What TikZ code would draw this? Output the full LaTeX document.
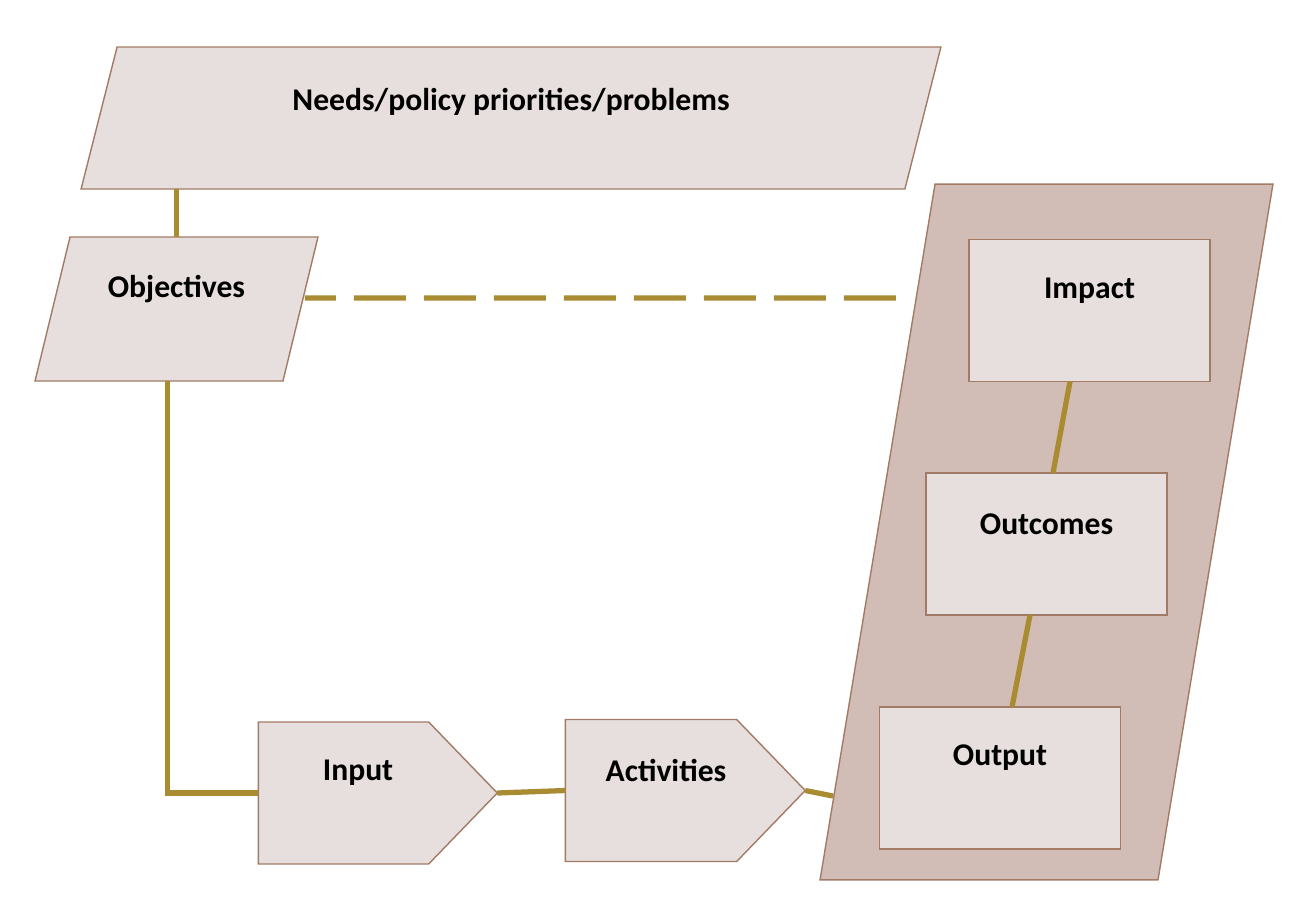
\documentclass[tikz,border=0pt]{standalone}
\usepackage{fontspec}
\setmainfont{Carlito}
\usetikzlibrary{shapes.symbols}

\definecolor{boxfill}{HTML}{E7DFDE}
\definecolor{boxedge}{HTML}{A27B66}
\definecolor{stackfill}{HTML}{D1BDB5}
\definecolor{linkgold}{HTML}{A98B32}

\tikzset{
  every node/.style={font=\fontsize{18}{21}\selectfont\bfseries, inner sep=0pt, outer sep=0pt},
  piece/.style={draw=boxedge, fill=boxfill, line width=0.8pt},
  frame/.style={rectangle},
  stepbox/.style={piece, rectangle, minimum width=4.82cm, minimum height=2.84cm},
  arrowbox/.style={piece, signal, signal to=east, signal from=nowhere, signal pointer angle=92, minimum height=2.84cm},
  tag/.style={draw=none, fill=none, yshift=0.4cm},
  link/.style={draw=linkgold, line width=3pt},
}

\begin{document}
\begin{tikzpicture}[x=0.02cm, y=-0.02cm]
        \useasboundingbox (0,0) rectangle (1292,920);

        % Slanted frames
        \node[frame, minimum width=9.06cm, minimum height=13.92cm] (stack) at (1046.5,532) {};
        \draw[piece, fill=stackfill] ([xshift=2.3cm]stack.north west) -- (stack.north east)
            -- ([xshift=-2.3cm]stack.south east) -- (stack.south west) -- cycle;
        \node[frame, minimum width=17.2cm, minimum height=2.84cm] (needs) at (511,118) {};
        \draw[piece] ([xshift=0.72cm]needs.north west) -- (needs.north east)
            -- ([xshift=-0.72cm]needs.south east) -- (needs.south west) -- cycle;
        \node[tag, yshift=-0.08cm] (needstext) at (needs.center) {Needs/policy priorities/problems};
        \node[frame, minimum width=5.66cm, minimum height=2.88cm] (objectives) at (176.5,309) {};
        \draw[piece] ([xshift=0.7cm]objectives.north west) -- (objectives.north east)
            -- ([xshift=-0.7cm]objectives.south east) -- (objectives.south west) -- cycle;
        \node[tag] (objtext) at (objectives.center) {Objectives};

        % Pieces
        \node[stepbox, label={[tag]center:Impact}] (impact) at (1089.5,310.5) {};
        \node[stepbox, label={[tag]center:Outcomes}] (outcomes) at (1046.5,544) {};
        \node[stepbox, label={[tag]center:Output}] (output) at (1000,778) {};
        \node[arrowbox, minimum width=4.78cm, label={[tag, xshift=0.29cm]center:Input}] (input) at (343.5,793) {};
        \node[arrowbox, minimum width=4.8cm, label={[tag, xshift=0.3cm]center:Activities}] (activities) at (651,790.5) {};
        \coordinate (dashend) at (900,298);
        \coordinate (stackin) at (833,796);

        % Links
        \draw[link] (objectives.north) -- (objectives.north |- needs.south);
        \draw[link] ([xshift=-0.18cm]objectives.south) |- (input.west);
        \draw[link, dash pattern=on 1.04cm off 0.36cm, dash phase=0.42cm] ([xshift=-0.26cm, yshift=0.22cm]objectives.east) -- (dashend);
        \draw[link] (input.east) -- (activities.west);
        \draw[link] (activities.east) -- (stackin);
        \draw[link] ([xshift=-0.39cm]impact.south) -- ([xshift=0.13cm]outcomes.north);
        \draw[link] ([xshift=-0.33cm]outcomes.south) -- ([xshift=0.24cm]output.north);
    \end{tikzpicture}
\end{document}
